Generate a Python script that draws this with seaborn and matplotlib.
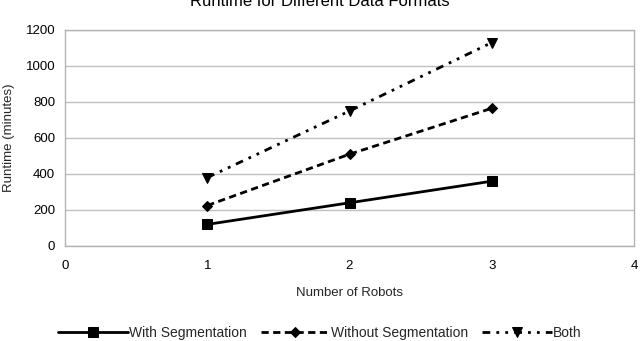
import matplotlib
matplotlib.use("Agg")
import matplotlib.pyplot as plt
import seaborn as sns
import pandas as pd

robots = [1, 2, 3]
with_seg = [120, 240, 360]
without_seg = [225, 510, 765]
both = [380, 750, 1130]
series_names = ["With Segmentation", "Without Segmentation", "Both"]

df = pd.DataFrame({
    "Number of Robots": robots * 3,
    "Runtime (minutes)": with_seg + without_seg + both,
    "series": [series_names[0]] * 3 + [series_names[1]] * 3 + [series_names[2]] * 3,
})

sns.set_theme(style="white")
plt.rcParams['font.family'] = ['Liberation Sans', 'DejaVu Sans']

fig = plt.figure(figsize=(6.4, 3.41), dpi=100)
ax = fig.add_axes([65/640, 1 - 246/341, (634-65)/640, (246-30)/341])

sns.lineplot(
    data=df, x="Number of Robots", y="Runtime (minutes)", style="series",
    markers={series_names[0]: "s", series_names[1]: "D", series_names[2]: "v"},
    dashes={series_names[0]: "", series_names[1]: (2.6, 1.6), series_names[2]: (2.8, 2.2, 1.0, 2.2, 1.0, 2.2)},
    color="black", linewidth=2.0, markersize=7, markeredgecolor="black",
    ax=ax, legend=True,
)

msizes = {series_names[0]: 7, series_names[1]: 5.5, series_names[2]: 7.5}
for line, name in zip(ax.lines[:3], series_names):
    line.set_markersize(msizes[name])

ax.set_xlim(0, 4)
ax.set_ylim(0, 1200)
ax.set_xticks([0, 1, 2, 3, 4])
ax.set_yticks([0, 200, 400, 600, 800, 1000, 1200])
ax.yaxis.grid(True, color="#c0c0c0", linewidth=1.0)
ax.xaxis.grid(False)
for s in ax.spines.values():
    s.set_color("#b3b3b3")
    s.set_linewidth(1.0)
ax.tick_params(axis="both", which="major", direction="out", length=4, width=1,
               color="#b3b3b3", labelsize=9.5, labelcolor="black", pad=3)
ax.tick_params(axis="x", pad=6)
ax.set_xlabel("Number of Robots", fontsize=9.5, labelpad=11)
ax.set_ylabel("Runtime (minutes)", fontsize=9.5, labelpad=8)

handles, labels = ax.get_legend_handles_labels()
for h, l in zip(handles, labels):
    if l in msizes:
        h.set_markersize(msizes[l])
ax.get_legend().remove()
fig.legend(handles, labels, loc="center", bbox_to_anchor=(0.5, 1 - 333/341), ncol=3,
           frameon=False, fontsize=10, handlelength=5.0, columnspacing=1.0, handletextpad=0.1)

fig.text(0.5, 1 - 6/341, "Runtime for Different Data Formats", ha="center", va="baseline",
         fontsize=12, color="black")

fig.savefig("out.png", dpi=100)
